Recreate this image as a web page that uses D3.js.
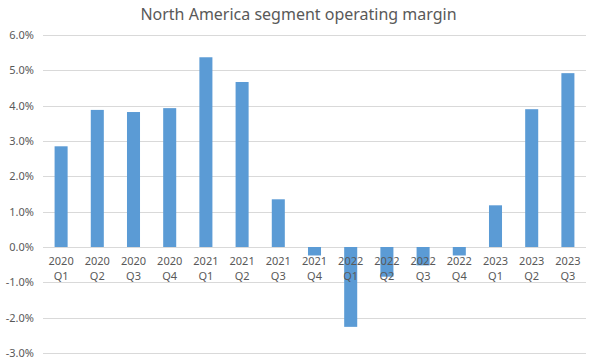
<!DOCTYPE html>
<html>
<head>
<meta charset="utf-8">
<script src="https://cdn.jsdelivr.net/npm/d3@7"></script>
<style>
  body { margin: 0; background: #fff; }
  text { font-family: "Noto Sans", "Liberation Sans", sans-serif; fill: #595959; }
</style>
</head>
<body>
<svg id="chart"></svg>
<script>
const width = 597;
const height = 363;

// data
const years = ["2020", "2020", "2020", "2020", "2021", "2021", "2021", "2021",
               "2022", "2022", "2022", "2022", "2023", "2023", "2023"];
const quarters = ["Q1", "Q2", "Q3", "Q4", "Q1", "Q2", "Q3", "Q4",
                  "Q1", "Q2", "Q3", "Q4", "Q1", "Q2", "Q3"];
const margins = [2.85, 3.88, 3.82, 3.93, 5.37, 4.67, 1.35, -0.24,
                 -2.26, -0.84, -0.52, -0.24, 1.18, 3.9, 4.92];
const yTicks = [-3, -2, -1, 0, 1, 2, 3, 4, 5, 6];

const plot = {top: 35, right: 11, bottom: 10, left: 43};

const svg = d3.select("#chart")
    .attr("width", width)
    .attr("height", height);

const keys = margins.map((d, i) => i);

const x = d3.scaleBand()
    .domain(keys)
    .range([plot.left, width - plot.right])
    .paddingInner(0.64)
    .paddingOuter(0.32);

const y = d3.scaleLinear()
    .domain([-3, 6])
    .range([353, 35]);

svg.append("text")
    .attr("x", width / 2)
    .attr("y", 20)
    .attr("text-anchor", "middle")
    .style("font-size", "16px")
    .text("North America segment operating margin");

// gridlines
svg.append("g")
    .selectAll("line")
    .data(yTicks)
    .enter()
    .append("line")
    .attr("x1", plot.left)
    .attr("x2", width - plot.right)
    .attr("y1", d => Math.round(y(d)) + 0.5)
    .attr("y2", d => Math.round(y(d)) + 0.5)
    .attr("stroke", "#d9d9d9")
    .attr("stroke-width", 1);

// y labels
svg.append("g")
    .selectAll("text")
    .data(yTicks)
    .enter()
    .append("text")
    .attr("x", 34)
    .attr("y", d => y(d) + 4)
    .attr("text-anchor", "end")
    .style("font-size", "11px")
    .text(d => d.toFixed(1) + "%");

// bars
svg.append("g")
    .selectAll("rect")
    .data(margins)
    .enter()
    .append("rect")
    .attr("x", (d, i) => x(i))
    .attr("width", x.bandwidth())
    .attr("y", d => y(Math.max(0, d)))
    .attr("height", d => Math.abs(y(d) - y(0)))
    .attr("fill", "#5b9bd5");

// category labels, drawn over the bars
const labels = svg.append("g")
    .selectAll("text")
    .data(keys)
    .enter()
    .append("text")
    .attr("text-anchor", "middle")
    .style("font-size", "11px");

labels.append("tspan")
    .attr("x", i => x(i) + x.bandwidth() / 2)
    .attr("y", 265)
    .text(i => years[i]);

labels.append("tspan")
    .attr("x", i => x(i) + x.bandwidth() / 2)
    .attr("y", 280)
    .text(i => quarters[i]);
</script>
</body>
</html>
